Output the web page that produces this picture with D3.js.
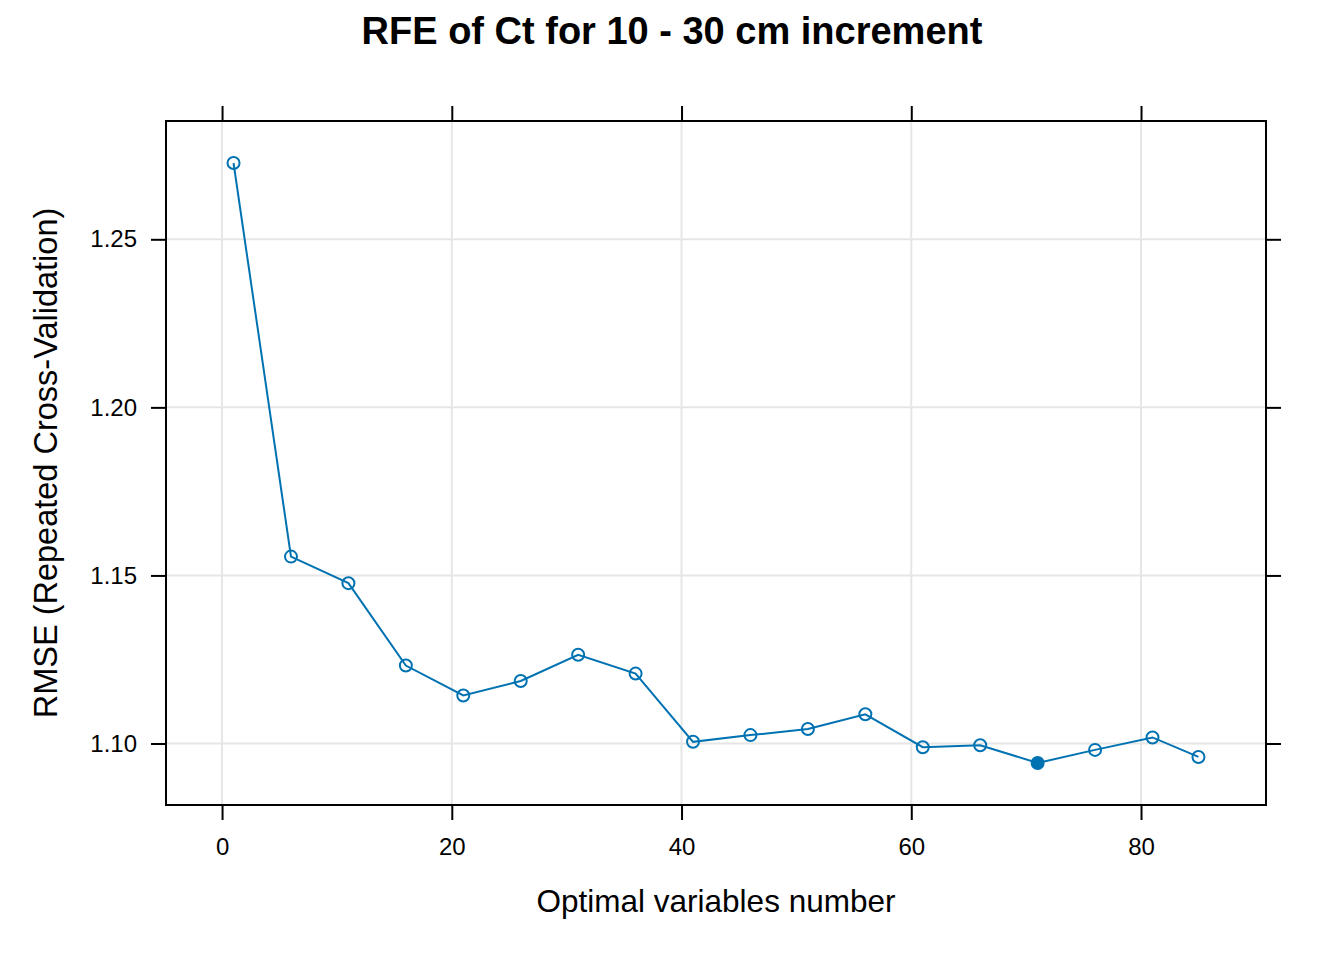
<!DOCTYPE html>
<html>
<head>
<meta charset="utf-8">
<script src="https://cdn.jsdelivr.net/npm/d3@7"></script>
<style>
  body { margin: 0; background: #fff; }
  text { font-family: "Liberation Sans", Arial, sans-serif; }
</style>
</head>
<body>
<svg id="chart" width="1344" height="960"></svg>
<script>
const variables = [1, 6, 11, 16, 21, 26, 31, 36, 41, 46, 51, 56, 61, 66, 71, 76, 81, 85];
const rmse = [1.2727, 1.1556, 1.1477, 1.1232, 1.1143, 1.1186, 1.1264, 1.1208, 1.1005,
              1.1025, 1.1043, 1.1087, 1.0989, 1.0995, 1.0942, 1.0981, 1.1018, 1.0960];
const xTicks = [0, 20, 40, 60, 80];
const yTicks = [1.10, 1.15, 1.20, 1.25];
const best = 71;

const svg = d3.select("#chart");
const panel = { left: 166, right: 1266, top: 121, bottom: 805 };
const col = "#0072B2";

// lattice-style 7% padding on both axes
const xExt = d3.extent(variables), yExt = d3.extent(rmse);
const xPad = (xExt[1] - xExt[0]) * 0.07, yPad = (yExt[1] - yExt[0]) * 0.07;

const x = d3.scaleLinear()
    .domain([xExt[0] - xPad, xExt[1] + xPad])
    .range([panel.left, panel.right]);
const y = d3.scaleLinear()
    .domain([yExt[0] - yPad, yExt[1] + yPad])
    .range([panel.bottom, panel.top]);

// grid
const grid = svg.append("g").attr("stroke", "#e6e6e6").attr("stroke-width", 2);
grid.selectAll(".gx").data(xTicks).join("line")
    .attr("x1", d => x(d)).attr("x2", d => x(d))
    .attr("y1", panel.top).attr("y2", panel.bottom);
grid.selectAll(".gy").data(yTicks).join("line")
    .attr("y1", d => y(d)).attr("y2", d => y(d))
    .attr("x1", panel.left).attr("x2", panel.right);

// axes (ticks on all four sides, labels bottom and left)
const fmtY = d3.format(".2f");
const styleAxis = g => {
    g.select(".domain").remove();
    g.selectAll(".tick line").attr("stroke", "#000").attr("stroke-width", 2);
    g.selectAll(".tick text").attr("font-size", 24).attr("fill", "#000")
        .attr("font-family", "'Liberation Sans', Arial, sans-serif");
};
svg.append("g").attr("transform", `translate(0,${panel.bottom})`)
    .call(d3.axisBottom(x).tickValues(xTicks).tickSize(15).tickPadding(18))
    .call(styleAxis);
svg.append("g").attr("transform", `translate(0,${panel.top})`)
    .call(d3.axisTop(x).tickValues(xTicks).tickSize(15).tickFormat(""))
    .call(styleAxis);
svg.append("g").attr("transform", `translate(${panel.left},0)`)
    .call(d3.axisLeft(y).tickValues(yTicks).tickSize(15).tickPadding(14).tickFormat(fmtY))
    .call(styleAxis);
svg.append("g").attr("transform", `translate(${panel.right},0)`)
    .call(d3.axisRight(y).tickValues(yTicks).tickSize(15).tickFormat(""))
    .call(styleAxis);

svg.append("rect")
    .attr("x", panel.left).attr("y", panel.top)
    .attr("width", panel.right - panel.left).attr("height", panel.bottom - panel.top)
    .attr("fill", "none").attr("stroke", "#000").attr("stroke-width", 2);

// series
const pts = variables.map((v, i) => [v, rmse[i]]);
svg.append("path")
    .datum(pts)
    .attr("fill", "none").attr("stroke", col).attr("stroke-width", 2)
    .attr("d", d3.line().x(d => x(d[0])).y(d => y(d[1])));
svg.selectAll(".pt").data(pts).join("circle")
    .attr("cx", d => x(d[0])).attr("cy", d => y(d[1]))
    .attr("r", 6)
    .attr("fill", d => d[0] === best ? col : "none")
    .attr("stroke", col).attr("stroke-width", 2);

// titles
svg.append("text")
    .attr("x", 672).attr("y", 44).attr("text-anchor", "middle")
    .attr("font-size", 38).attr("font-weight", "bold")
    .text("RFE of Ct for 10 - 30 cm increment");
svg.append("text")
    .attr("x", (panel.left + panel.right) / 2).attr("y", 912).attr("text-anchor", "middle")
    .attr("font-size", 31.5)
    .text("Optimal variables number");
svg.append("text")
    .attr("transform", `translate(57,${(panel.top + panel.bottom) / 2}) rotate(-90)`)
    .attr("text-anchor", "middle")
    .attr("font-size", 32.5)
    .text("RMSE (Repeated Cross-Validation)");
</script>
</body>
</html>
